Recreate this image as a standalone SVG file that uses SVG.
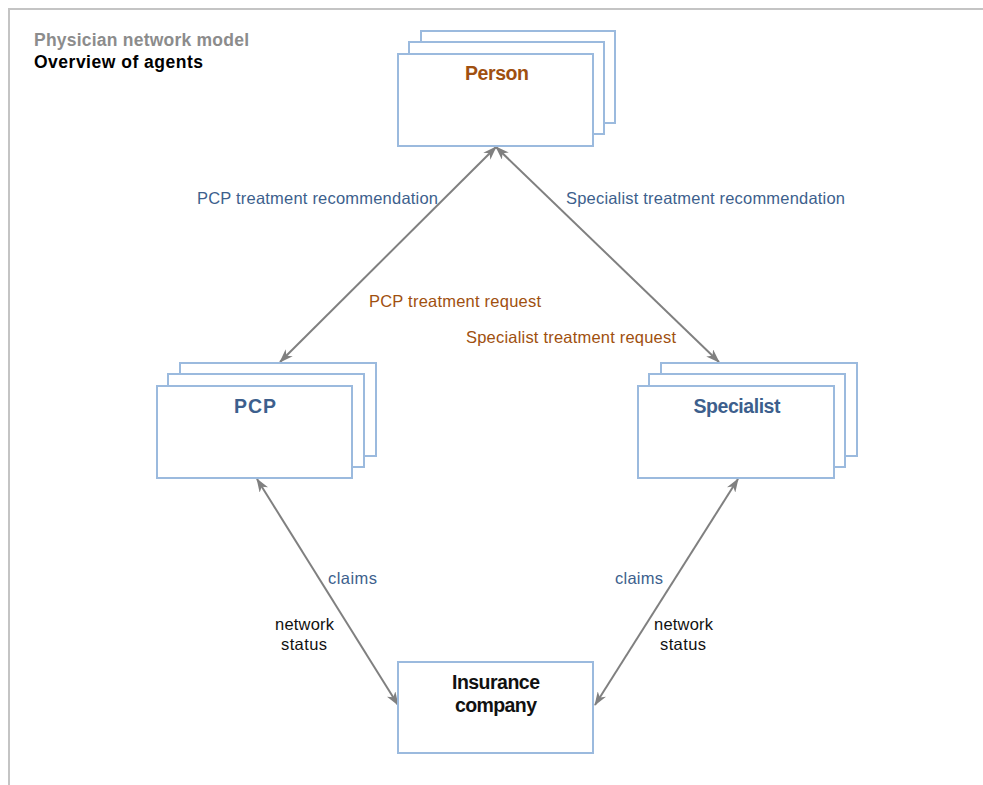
<svg xmlns="http://www.w3.org/2000/svg" width="983" height="785" viewBox="0 0 983 785">
  <style>
    .frame { fill: none; stroke: #c4c4c4; stroke-width: 2; }
    .box { fill: #ffffff; stroke: #9bbade; stroke-width: 2; }
    .link { fill: none; stroke: #808080; stroke-width: 2; marker-start: url(#head); marker-end: url(#head); }
    text { font-family: "Liberation Sans", Arial, sans-serif; }
    .title { font-size: 17.5px; font-weight: bold; }
    .node { font-size: 19.5px; font-weight: bold; text-anchor: middle; }
    .lbl { font-size: 16.5px; }
    .blue { fill: #3d5f8d; }
    .orange { fill: #a0500f; }
    .dark { fill: #111111; }
  </style>
  <defs>
    <marker id="head" viewBox="0 0 14 10" refX="13" refY="5" markerWidth="14" markerHeight="10" markerUnits="userSpaceOnUse" orient="auto-start-reverse">
      <path d="M0,0 L14,5 L0,10 L4,5 z" fill="#808080"/>
    </marker>
  </defs>

  <rect width="983" height="785" fill="#ffffff"/>
  <path class="frame" d="M9,785 V9 H983"/>

  <g id="heading">
    <text class="title" x="34" y="46" fill="#8c8c8c" textLength="215" lengthAdjust="spacing">Physician network model</text>
    <text class="title" x="34" y="68" fill="#000000" textLength="169" lengthAdjust="spacing">Overview of agents</text>
  </g>

  <g id="links">
    <line class="link" x1="496" y1="147" x2="280" y2="362"/>
    <line class="link" x1="496" y1="147" x2="719" y2="362"/>
    <line class="link" x1="257" y1="479" x2="398" y2="705"/>
    <line class="link" x1="738" y1="479" x2="595" y2="705"/>
    <text class="lbl blue" x="197" y="204" textLength="241" lengthAdjust="spacing">PCP treatment recommendation</text>
    <text class="lbl blue" x="566" y="204" textLength="279" lengthAdjust="spacing">Specialist treatment recommendation</text>
    <text class="lbl orange" x="369" y="307" textLength="172" lengthAdjust="spacing">PCP treatment request</text>
    <text class="lbl orange" x="466" y="343" textLength="210" lengthAdjust="spacing">Specialist treatment request</text>
    <text class="lbl blue" x="328" y="584" textLength="49" lengthAdjust="spacing">claims</text>
    <text class="lbl dark" x="275" y="630" textLength="59" lengthAdjust="spacing">network</text>
    <text class="lbl dark" x="281" y="650" textLength="46" lengthAdjust="spacing">status</text>
    <text class="lbl blue" x="615" y="584" textLength="48" lengthAdjust="spacing">claims</text>
    <text class="lbl dark" x="654" y="630" textLength="59" lengthAdjust="spacing">network</text>
    <text class="lbl dark" x="660" y="650" textLength="46" lengthAdjust="spacing">status</text>
  </g>

  <g id="person">
    <rect class="box" x="421" y="31" width="194" height="92"/>
    <rect class="box" x="409" y="42" width="195" height="92"/>
    <rect class="box" x="398" y="54" width="195" height="92"/>
    <text class="node orange" x="497" y="80" textLength="64" lengthAdjust="spacing">Person</text>
  </g>

  <g id="pcp">
    <rect class="box" x="180" y="363" width="196" height="93"/>
    <rect class="box" x="168" y="374" width="196" height="93"/>
    <rect class="box" x="157" y="386" width="195" height="92"/>
    <text class="node blue" x="255" y="413" textLength="42" lengthAdjust="spacing">PCP</text>
  </g>

  <g id="specialist">
    <rect class="box" x="661" y="363" width="196" height="93"/>
    <rect class="box" x="649" y="374" width="196" height="93"/>
    <rect class="box" x="638" y="386" width="196" height="92"/>
    <text class="node blue" x="737" y="413" textLength="87" lengthAdjust="spacing">Specialist</text>
  </g>

  <g id="insurance">
    <rect class="box" x="398" y="662" width="195" height="91"/>
    <text class="node dark" x="496" y="689" textLength="88" lengthAdjust="spacing">Insurance</text>
    <text class="node dark" x="496" y="712" textLength="82" lengthAdjust="spacing">company</text>
  </g>
</svg>
